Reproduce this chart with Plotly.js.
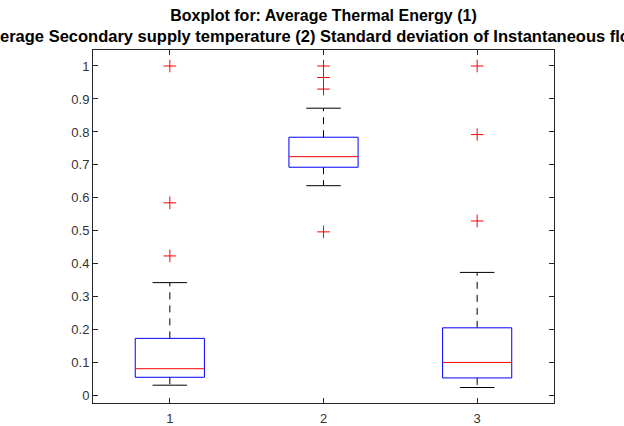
<!DOCTYPE html>
<html>
<head>
<meta charset="utf-8">
<script src="https://cdn.plot.ly/plotly-3.0.1.min.js"></script>
<style>html,body{margin:0;padding:0;background:#fff;}#chart{width:624px;height:426px;}</style>
</head>
<body>
<div id="chart"></div>
<script>
// Data
const groups = [1, 2, 3];
const tickLabels = ['1', '2', '3'];
const q1 = [0.056, 0.693, 0.054];
const medians = [0.082, 0.725, 0.101];
const q3 = [0.174, 0.784, 0.206];
const lowerWhisker = [0.032, 0.637, 0.025];
const upperWhisker = [0.343, 0.872, 0.374];
const outliers1 = [0.424, 0.585, 1.0];
const outliers2 = [0.497, 0.930, 0.965, 1.0];
const outliers3 = [0.530, 0.792, 1.0];
const outliers = [outliers1, outliers2, outliers3];

const boxHalf = 0.225;
const capHalf = 0.1125;

const boxX = [], boxY = [], medX = [], medY = [], whX = [], whY = [], capX = [], capY = [], outX = [], outY = [];
groups.forEach((g, i) => {
  boxX.push(g - boxHalf, g + boxHalf, g + boxHalf, g - boxHalf, g - boxHalf, null);
  boxY.push(q1[i], q1[i], q3[i], q3[i], q1[i], null);
  medX.push(g - boxHalf, g + boxHalf, null);
  medY.push(medians[i], medians[i], null);
  whX.push(g, g, null, g, g, null);
  whY.push(q3[i], upperWhisker[i], null, q1[i], lowerWhisker[i], null);
  capX.push(g - capHalf, g + capHalf, null, g - capHalf, g + capHalf, null);
  capY.push(upperWhisker[i], upperWhisker[i], null, lowerWhisker[i], lowerWhisker[i], null);
  outliers[i].forEach(v => { outX.push(g); outY.push(v); });
});

const traces = [
  {x: whX, y: whY, mode: 'lines', line: {color: '#000', width: 1, dash: '7px,6px'}, hoverinfo: 'skip'},
  {x: capX, y: capY, mode: 'lines', line: {color: '#000', width: 1}, hoverinfo: 'skip'},
  {x: boxX, y: boxY, mode: 'lines', line: {color: '#0000ff', width: 1}, hoverinfo: 'skip'},
  {x: medX, y: medY, mode: 'lines', line: {color: '#ff0000', width: 1}, hoverinfo: 'skip'},
  {x: outX, y: outY, mode: 'markers', marker: {symbol: 'cross-thin', size: 9, line: {color: '#ff0000', width: 1}, color: '#ff0000'}, hoverinfo: 'skip'}
].map(t => Object.assign({type: 'scatter', showlegend: false}, t));

const axisCommon = {
  showgrid: false, zeroline: false, showline: true, linecolor: '#262626', linewidth: 1,
  mirror: 'ticks', ticks: 'inside', ticklen: 5, tickcolor: '#262626',
  tickfont: {family: 'Liberation Sans, Arial, sans-serif', size: 13, color: '#333333'},
  automargin: false, fixedrange: true
};

const layout = {
  width: 624, height: 426,
  paper_bgcolor: '#fff', plot_bgcolor: '#fff',
  margin: {l: 93, r: 70, t: 50, b: 23, pad: 0},
  title: {
    text: '<b>Boxplot for: Average Thermal Energy (1)<br><span style="font-size:16.5px">Average Secondary supply temperature (2) Standard deviation of Instantaneous flow (3)</span></b>',
    font: {family: 'Liberation Sans, Arial, sans-serif', size: 16, color: '#000'},
    x: 0.5, xanchor: 'center', y: 0.951, yanchor: 'top', xref: 'paper'
  },
  xaxis: Object.assign({}, axisCommon, {range: [0.5, 3.5], tickvals: groups, ticktext: tickLabels, ticklabelstandoff: 3}),
  yaxis: Object.assign({}, axisCommon, {range: [-0.022, 1.0485], tickvals: [0,0.1,0.2,0.3,0.4,0.5,0.6,0.7,0.8,0.9,1], ticktext: ['0','0.1','0.2','0.3','0.4','0.5','0.6','0.7','0.8','0.9','1']})
};

Plotly.newPlot('chart', traces, layout, {staticPlot: true, displayModeBar: false});
</script>
</body>
</html>
